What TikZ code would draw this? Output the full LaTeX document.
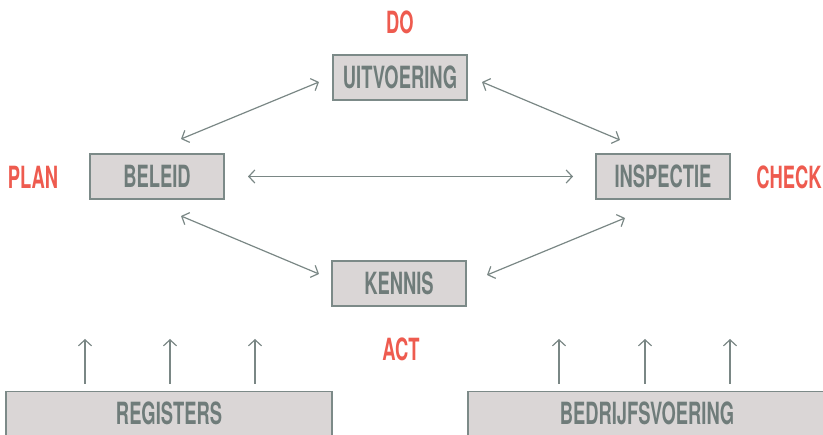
\documentclass[tikz,border=0pt]{standalone}
\usepackage{fontspec}
\setmainfont{TeX Gyre Heros}[FakeStretch=0.6]
\usetikzlibrary{arrows.meta}
\definecolor{boxfill}{HTML}{DAD6D6}
\definecolor{boxline}{HTML}{7C8A88}
\definecolor{boxtext}{HTML}{6F7C7A}
\definecolor{redtxt}{HTML}{EE5B4F}
\definecolor{arrowc}{HTML}{7A8785}
\tikzset{
  stage/.style={draw=boxline, line width=1.3pt, fill=boxfill, text=boxtext,
    font=\fontsize{30.6pt}{30.6pt}\selectfont\bfseries,
    minimum width=134pt, minimum height=45pt, inner sep=0pt,
    text height=22pt, text depth=0pt},
  basebox/.style={stage, anchor=north, minimum height=56pt, text depth=12pt},
  phase/.style={text=redtxt, font=\fontsize{30.6pt}{30.6pt}\selectfont\bfseries,
    inner sep=0pt, text height=22pt, text depth=0pt},
  link/.style={draw=arrowc, line width=1.2pt,
    {Straight Barb[length=6pt,width=13pt,line width=1.2pt]}-{Straight Barb[length=6pt,width=13pt,line width=1.2pt]}},
  feed/.style={draw=arrowc, line width=1.2pt,
    -{Straight Barb[length=6pt,width=13pt,line width=1.2pt]}}
}
\begin{document}
\begin{tikzpicture}[x=1pt,y=-1pt]
\useasboundingbox (0,0) rectangle (823,435);
\clip (0,0) rectangle (823,435);
% boxes
\node[stage] (uit) at (400,77.5) {UITVOERING};
\node[stage] (bel) at (157,176.5) {BELEID};
\node[stage] (ins) at (663,176.5) {INSPECTIE};
\node[stage] (ken) at (399,283.5) {KENNIS};
\node[basebox, minimum width=326pt] (reg) at (169,391) {REGISTERS};
\node[basebox, minimum width=358pt] (bed) at (647,391) {BEDRIJFSVOERING};
% phase labels
\node[phase] (do) at (400,23) {DO};
\node[phase] (plan) at (33,178) {PLAN};
\node[phase] (check) at (789,178) {CHECK};
\node[phase] (act) at (401,350) {ACT};
% connector ends
\coordinate (uitL) at (319,82);
\coordinate (uitR) at (482,82);
\coordinate (belT) at (181,139);
\coordinate (belB) at (181,216);
\coordinate (belR) at (248,176.5);
\coordinate (insT) at (620,140);
\coordinate (insB) at (625,218);
\coordinate (insL) at (573,176.5);
\coordinate (kenL) at (319,274);
\coordinate (kenR) at (487,275);
% diamond connectors
\draw[link] (belT) -- (uitL);
\draw[link] (uitR) -- (insT);
\draw[link] (belR) -- (insL);
\draw[link] (belB) -- (kenL);
\draw[link] (kenR) -- (insB);
% feed arrows
\foreach \x in {85,170,255} {
  \coordinate (r\x) at (\x,339);
  \draw[feed] (reg.north -| r\x) ++(0,-7) -- (r\x);
}
\foreach \x in {559,645,730} {
  \coordinate (b\x) at (\x,339);
  \draw[feed] (bed.north -| b\x) ++(0,-7) -- (b\x);
}
\end{tikzpicture}
\end{document}
